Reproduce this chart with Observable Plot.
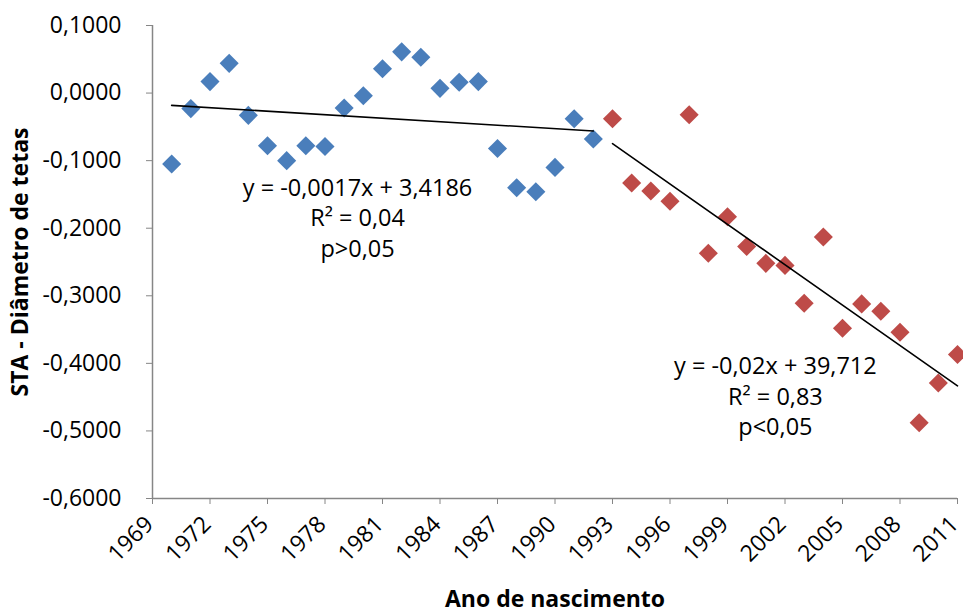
<!DOCTYPE html>
<html><head><meta charset="utf-8">
<script src="https://cdn.jsdelivr.net/npm/d3@7"></script>
<script src="https://cdn.jsdelivr.net/npm/@observablehq/plot@0.6"></script>
<style>body{margin:0;background:#fff;overflow:hidden}</style>
</head><body><div id="chart"></div>
<script>
const yearsA = [1970,1971,1972,1973,1974,1975,1976,1977,1978,1979,1980,1981,1982,1983,1984,1985,1986,1987,1988,1989,1990,1991,1992];
const valuesA = [-0.105,-0.023,0.017,0.044,-0.033,-0.078,-0.100,-0.078,-0.079,-0.022,-0.004,0.036,0.061,0.053,0.007,0.016,0.017,-0.082,-0.140,-0.146,-0.110,-0.038,-0.068];
const yearsB = [1993,1994,1995,1996,1997,1998,1999,2000,2001,2002,2003,2004,2005,2006,2007,2008,2009,2010,2011];
const valuesB = [-0.038,-0.133,-0.145,-0.160,-0.032,-0.237,-0.183,-0.227,-0.252,-0.255,-0.311,-0.213,-0.348,-0.312,-0.323,-0.354,-0.488,-0.429,-0.387];
const xTicks = [1969,1972,1975,1978,1981,1984,1987,1990,1993,1996,1999,2002,2005,2008,2011];
const yTicks = [0.1,0,-0.1,-0.2,-0.3,-0.4,-0.5,-0.6];
const xTitle = "Ano de nascimento";
const yTitle = "STA - Diâmetro de tetas";
const notes = [
  {x: 1979.7, y: -0.1826, text: "y = -0,0017x + 3,4186\nR² = 0,04\np>0,05"},
  {x: 2001.5, y: -0.447, text: "y = -0,02x + 39,712\nR² = 0,83\np<0,05"}
];

const dataA = yearsA.map((x, i) => ({x, y: valuesA[i]}));
const dataB = yearsB.map((x, i) => ({x, y: valuesB[i]}));
const fmt = d => d.toFixed(4).replace(".", ",").replace(/^-0,0000$/, "0,0000");
const axisGray = "#868686";
const font = "'Open Sans', sans-serif";

const chart = Plot.plot({
  width: 963, height: 613,
  marginLeft: 152, marginRight: 6, marginTop: 25, marginBottom: 115,
  style: {fontFamily: font, fontSize: "23px", color: "#000", background: "#fff"},
  x: {domain: [1969, 2011]},
  y: {domain: [-0.6, 0.1]},
  marks: [
    Plot.axisY({ticks: yTicks, tickFormat: fmt, tickSize: 6, tickPadding: 25, stroke: axisGray, fontSize: 23, label: null}),
    Plot.axisX({ticks: xTicks, tickFormat: () => "", tickSize: 6, stroke: axisGray, label: null}),
    Plot.axisX({ticks: xTicks, tickFormat: d => String(d), tickSize: 0, tickPadding: 22, tickRotate: -45, stroke: "none", fontSize: 23, label: null, dx: -3}),
    Plot.ruleY([-0.6], {stroke: axisGray, strokeWidth: 1.5}),
    Plot.ruleX([1969], {stroke: axisGray, strokeWidth: 1.5}),
    Plot.dot(dataA, {x: "x", y: "y", symbol: "diamond2", r: 8.6, fill: "#4A7EBB", stroke: "none"}),
    Plot.dot(dataB, {x: "x", y: "y", symbol: "diamond2", r: 8.6, fill: "#BE4B48", stroke: "none"}),
    Plot.linearRegressionY(dataA, {x: "x", y: "y", ci: 0, stroke: "#000", strokeWidth: 1.6}),
    Plot.linearRegressionY(dataB, {x: "x", y: "y", ci: 0, stroke: "#000", strokeWidth: 1.6}),
    Plot.text(notes, {x: "x", y: "y", text: "text", fontSize: 23.5, lineHeight: 1.3, fill: "#000", textAnchor: "middle"}),
    Plot.text([xTitle], {frameAnchor: "bottom", dy: 108, fontSize: 23, fontWeight: "bold", fill: "#000", textAnchor: "middle"}),
    Plot.text([yTitle], {frameAnchor: "left", dx: -132, rotate: -90, fontSize: 23, fontWeight: "bold", fill: "#000", textAnchor: "middle"})
  ]
});
document.getElementById("chart").append(chart);
</script>
</body></html>
